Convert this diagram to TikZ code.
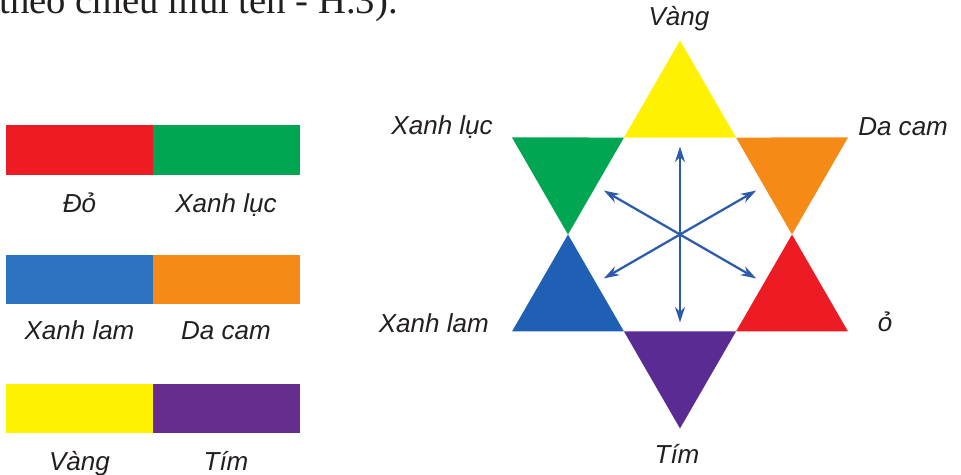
\documentclass[tikz,border=0pt]{standalone}
\usepackage{fontspec}
\setmainfont{Liberation Serif}
\setsansfont{Liberation Sans}
\usepackage {tikz}
\usetikzlibrary {positioning,arrows.meta}

\definecolor{cRed}{HTML}{ED1C24}
\definecolor{cGreen}{HTML}{00A651}
\definecolor{cBlue}{HTML}{2E73C1}
\definecolor{cBlueTri}{HTML}{1F60B5}
\definecolor{cOrange}{HTML}{F58A17}
\definecolor{cYellow}{HTML}{FFF200}
\definecolor{cPurple}{HTML}{662D8F}
\definecolor{cPurpleTri}{HTML}{5A2B93}
\definecolor{arrBlue}{HTML}{2B5BAA}
\definecolor{txtGrey}{HTML}{231F20}

\begin{document}
\begin{tikzpicture}[x=0.025cm,y=0.025cm,
    bar/.style ={rectangle, inner sep=0pt,
    minimum width=3.66cm, minimum height=1.24cm},
    lbl/.style={font=\sffamily\itshape\fontsize{18.5}{22}\selectfont,
    text=txtGrey, inner sep=0pt},
    ray/.style={-{Stealth[length=11pt,width=7pt,inset=3.5pt]},
    line width=1.6pt, draw=arrBlue}
    ]
    \useasboundingbox (0,0) rectangle (961,474);

    % cut-off line of the page text
    \node[anchor=base west, inner sep=0pt, text=txtGrey,
      font=\fontsize{27.5}{32}\selectfont] (topLine) at (-1,460)
      {theo chiều mũi tên - H.3).};

    % pairs of colours
    \node[bar, fill=cRed] (redBar) at (79.5,324) {};
    \node[bar, fill=cGreen] (greenBar) [right=0pt of redBar] {};
    \node[bar, fill=cBlue] (blueBar) at (79.5,194.5) {};
    \node[bar, fill=cOrange] (orangeBar) [right=0pt of blueBar] {};
    \node[bar, fill=cYellow] (yellowBar) at (79.5,65.5) {};
    \node[bar, fill=cPurple] (purpleBar) [right=0pt of yellowBar] {};

    \node[lbl, anchor=base] (redLbl) at (79.5,261) {Đỏ};
    \node[lbl, anchor=base] (greenLbl) at (226,261) {Xanh lục};
    \node[lbl, anchor=base] (blueLbl) at (79.5,134) {Xanh lam};
    \node[lbl, anchor=base] (orangeLbl) at (226,134) {Da cam};
    \node[lbl, anchor=base] (yellowLbl) at (79.5,4) {Vàng};
    \node[lbl, anchor=base] (purpleLbl) at (226,4) {Tím};

    % star of six triangles
    \coordinate (C) at (680,239.5);
    \begin{scope}[shift={(C)}]
      \foreach \k/\col in {0/cOrange,1/cYellow,2/cGreen,3/cBlueTri,4/cPurpleTri,5/cRed}
        \fill[\col] (60*\k:112) -- (60*\k+30:194) -- (60*\k+60:112) -- cycle;
      \foreach \k in {0,...,5}
        \coordinate (tip\k) at (60*\k+30:88);
    \end{scope}
    \foreach \k in {0,...,5}
      \draw[ray] (C) -- (tip\k);

    \node[lbl, anchor=base] (vangLbl) at (679,448) {Vàng};
    \node[lbl, anchor=base east] (lucLbl) at (493,339) {Xanh lục};
    \node[lbl, anchor=base west] (camLbl) at (858,338) {Da cam};
    \node[lbl, anchor=base east] (lamLbl) at (489,141) {Xanh lam};
    \node[lbl, anchor=base] (doLbl) at (885,142) {ỏ};
    \node[lbl, anchor=base] (timLbl) at (677,11) {Tím};
    \end{tikzpicture}
\end{document}
